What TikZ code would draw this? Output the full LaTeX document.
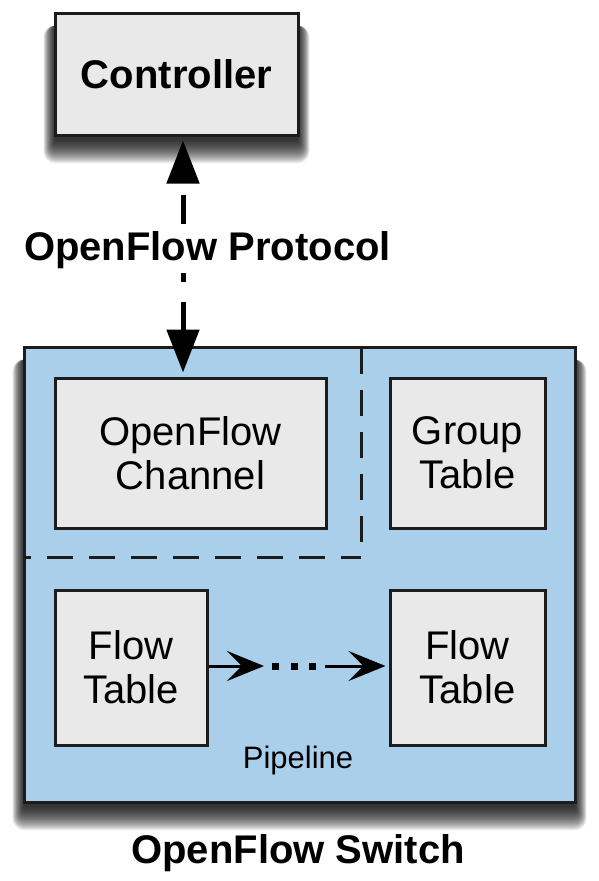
\documentclass[tikz,border=0pt]{standalone}
\usepackage{fontspec}
\setmainfont{Liberation Sans}
\usetikzlibrary{arrows.meta,backgrounds}
\definecolor{swblue}{RGB}{170,207,235}
\definecolor{boxgray}{RGB}{233,233,233}
\definecolor{edge}{RGB}{28,28,28}
\tikzset{
  shadowlayer/.style={fill=black,opacity=0.05},
  graybox/.style={draw=edge,line width=3pt,fill=boxgray,inner sep=0pt,align=center,
    font=\fontsize{40}{44}\selectfont},
  boldlabel/.style={font=\fontsize{40}{44}\selectfont\bfseries,inner sep=0pt},
  protoarrow/.style={line width=5pt,draw=black,{Triangle[length=43pt,width=32pt]}-{Triangle[length=43pt,width=32pt]},
    shorten <=4pt,shorten >=4pt,dash pattern=on 0pt off 13pt on 29pt off 49pt on 9pt off 20pt on 40pt},
  pipearrow/.style={line width=3pt,draw=black,-{Stealth[length=37pt,width=30pt,inset=15pt]}},
  divider/.style={line width=3pt,draw=edge,dash pattern=on 26pt off 16pt}
}
\begin{document}
\begin{tikzpicture}[x=1pt,y=-1pt]
\useasboundingbox (0,0) rectangle (599,881);
% switch
\node[draw=edge,line width=3pt,fill=swblue,minimum width=551pt,minimum height=455pt,inner sep=0pt] (switch) at (299.5,574.5) {};
% controller
\node[graybox,minimum width=243pt,minimum height=122pt,font=\fontsize{40}{44}\selectfont\bfseries] (controller) at (176.5,74) {Controller};
% shadows
\begin{scope}[on background layer]
\foreach \n in {switch,controller}{
  \foreach \r in {1,...,30}{
    \fill[shadowlayer,rounded corners=0.4*\r pt]
      ([shift={(-0.4*\r+2,14)}]\n.north west) rectangle ([shift={(0.4*\r-2,3+0.8*\r)}]\n.south east);
  }
}
\end{scope}
% dividers
\coordinate (vtop) at (361,348);
\coordinate (vbot) at (361,557);
\coordinate (hleft) at (25,557);
\draw[divider] (vtop) -- (vbot);
\draw[divider,dash phase=6pt] (vbot) -- (hleft);
% inner boxes
\node[graybox,minimum width=271pt,minimum height=150pt] (channel) at (190.5,453) {OpenFlow\\Channel};
\node[graybox,minimum width=155pt,minimum height=150pt] (group) at (467.5,453) {Group\\Table};
\node[graybox,minimum width=152pt,minimum height=155pt] (flow1) at (131,667.5) {Flow\\Table};
\node[graybox,minimum width=155pt,minimum height=155pt] (flow2) at (467.5,667.5) {Flow\\Table};
% protocol arrow
\draw[protoarrow] ([xshift=6.5pt]controller.south) -- ([xshift=-7.5pt]channel.north);
\node[boldlabel] (proto) at (207.5,250) {OpenFlow Protocol};
% pipeline arrows
\coordinate (a1) at (264,666);
\coordinate (d1) at (272,666);
\coordinate (d2) at (316,666);
\coordinate (a2) at (325,666);
\draw[pipearrow] (flow1.east |- a1) -- (a1);
\draw[line width=7pt,draw=black,dash pattern=on 7pt off 11.5pt] (d1) -- (d2);
\draw[pipearrow] (a2) -- ([xshift=-3pt]flow2.west |- a2);
\node[font=\fontsize{31}{34}\selectfont,inner sep=0pt] (pipeline) at (298,760) {Pipeline};
\node[boldlabel] (swlabel) at (298,853) {OpenFlow Switch};
\end{tikzpicture}
\end{document}
